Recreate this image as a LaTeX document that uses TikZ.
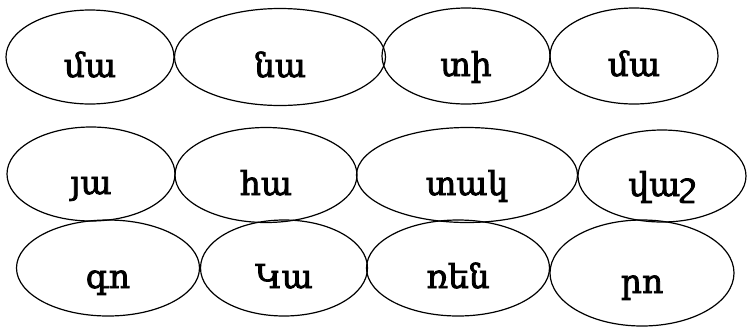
\documentclass[tikz,border=0pt]{standalone}
\usepackage{fontspec}
\newfontfamily\armfont[FakeBold=2.5]{DejaVu Serif}
\usetikzlibrary{shapes.geometric}

\begin{document}
\begin{tikzpicture}[x=1bp,y=-1bp]
\tikzset{
  wordnode/.style 2 args={ellipse,draw,line width=1.2bp,inner sep=0pt,
    minimum width=#1bp,minimum height=#2bp,text height=40bp,text depth=0bp,
    font=\armfont\fontsize{33}{35}\selectfont}
}
\useasboundingbox (0,0) rectangle (748,327);
% row 1
\node[wordnode={168}{94}] (n_A1) at (90,57) {մա};
\node[wordnode={211}{97}] (n_A2) at (280,57) {նա};
\node[wordnode={168}{96}] (n_A3) at (466,56) {տի};
\node[wordnode={168}{96}] (n_A4) at (634,56) {մա};
% row 2
\node[wordnode={168}{94}] (n_B1) at (91,174) {յա};
\node[wordnode={182}{95}] (n_B2) at (266,175) {հա};
\node[wordnode={221}{95}] (n_B3) at (467,175) {տակ};
\node[wordnode={168}{92}] (n_B4) at (662,176) {վաշ};
% row 3
\node[wordnode={183}{96}] (n_C1) at (108,268) {գո};
\node[wordnode={167}{96}] (n_C2) at (284,268) {Կա};
\node[wordnode={183}{96}] (n_C3) at (458,268) {ռեն};
\node[wordnode={184}{106}] (n_C4) at (642,273) {րո};
\end{tikzpicture}
\end{document}
